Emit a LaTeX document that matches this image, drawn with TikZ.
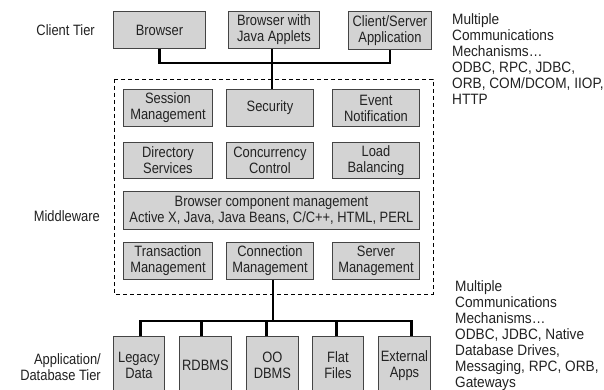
\documentclass[tikz,border=0pt]{standalone}
\usepackage{fontspec}
\setmainfont{Liberation Sans}[FakeStretch=0.86]
\newfontfamily\notefont{Liberation Sans}[FakeStretch=0.91]
\definecolor{boxfill}{HTML}{D3D3D3}
\definecolor{bord}{HTML}{444444}
\definecolor{txt}{HTML}{222222}
\begin{document}
\begin{tikzpicture}[x=1pt,y=-1pt,
  every node/.style={font=\fontsize{15pt}{16pt}\selectfont, text=txt},
  box/.style={draw=bord, line width=0.9pt, fill=boxfill, inner sep=0pt, align=center, anchor=north west},
  bus/.style={line width=2.8pt, draw=black, line join=miter},
  lbl/.style={inner sep=0pt, align=left},
  note/.style={inner sep=0pt, align=left, anchor=north west, font=\notefont\fontsize{15pt}{16pt}\selectfont},
  frame/.style={draw=black, line width=0.9pt, dash pattern=on 4pt off 3pt}]
\useasboundingbox (0,0) rectangle (604,390);
\fill[white] (0,0) rectangle (604,390);
% client tier
\node[box, minimum width=92pt, minimum height=37pt] (browser) at (113,11) {Browser};
\node[box, minimum width=91pt, minimum height=37pt] (bwja) at (228,11) {Browser with\\Java Applets};
\node[box, minimum width=83pt, minimum height=38pt] (cs) at (348,11) {Client/Server\\Application};
% middleware frame
\draw[frame] (114,79) rectangle (433,294);
\node[box, minimum width=89pt, minimum height=37pt] (sess) at (123,89) {Session\\Management};
\node[box, minimum width=87pt, minimum height=37pt] (sec) at (226,89) {Security};
\node[box, minimum width=87pt, minimum height=37pt] (evt) at (332,89) {Event\\Notification};
\node[box, minimum width=89pt, minimum height=36pt] (dir) at (123,142) {Directory\\Services};
\node[box, minimum width=87pt, minimum height=36pt] (conc) at (226,142) {Concurrency\\Control};
\node[box, minimum width=87pt, minimum height=36pt] (load) at (332,142) {Load\\Balancing};
\node[box, minimum width=296pt, minimum height=38pt] (bcm) at (123,191) {Browser component management\\Active X, Java, Java Beans, C/C++, HTML, PERL};
\node[box, minimum width=89pt, minimum height=37pt] (trans) at (123,242) {Transaction\\Management};
\node[box, minimum width=87pt, minimum height=37pt] (conn) at (226,242) {Connection\\Management};
\node[box, minimum width=87pt, minimum height=37pt] (serv) at (332,242) {Server\\Management};
% database tier
\node[box, minimum width=51pt, minimum height=58pt] (legacy) at (113,336) {Legacy\\Data};
\node[box, minimum width=52pt, minimum height=58pt] (rdbms) at (179,336) {RDBMS};
\node[box, minimum width=52pt, minimum height=58pt] (oo) at (246,336) {OO\\DBMS};
\node[box, minimum width=51pt, minimum height=58pt] (flat) at (312,336) {Flat\\Files};
\node[box, minimum width=52pt, minimum height=58pt] (ext) at (378,336) {External\\Apps};
% upper connectors
\coordinate (tb) at (272,63);
\draw[bus] (browser.south) |- (tb) -| (cs.south);
\draw[bus] (bwja.south -| tb) -- (sec.north -| tb);
% lower connectors
\coordinate (bb) at (273,321);
\draw[bus] (conn.south -| bb) -- (bb);
\draw[bus] ([xshift=1.5pt]legacy.north) |- (bb) -| ([xshift=7pt]ext.north);
\draw[bus] ([xshift=-4pt]rdbms.north) -- ([xshift=-4pt]rdbms.north |- bb);
\draw[bus] ([xshift=-6pt]oo.north) -- ([xshift=-6pt]oo.north |- bb);
\draw[bus] ([xshift=-1.5pt]flat.north) -- ([xshift=-1.5pt]flat.north |- bb);
% tier labels
\node[lbl, anchor=east] (lclient) at (95,30) {Client Tier};
\node[lbl, anchor=east] (lmid) at (100,216) {Middleware};
\node[lbl, anchor=east, align=right] (ldb) at (101,367) {Application/\\Database Tier};
% communication notes
\node[note] (comm1) at (452,13.5) {Multiple\\Communications\\Mechanisms…\\ODBC, RPC, JDBC,\\ORB, COM/DCOM, IIOP,\\HTTP};
\node[note] (comm2) at (455,280.5) {Multiple\\Communications\\Mechanisms…\\ODBC, JDBC, Native\\Database Drives,\\Messaging, RPC, ORB,\\Gateways};
\end{tikzpicture}
\end{document}
